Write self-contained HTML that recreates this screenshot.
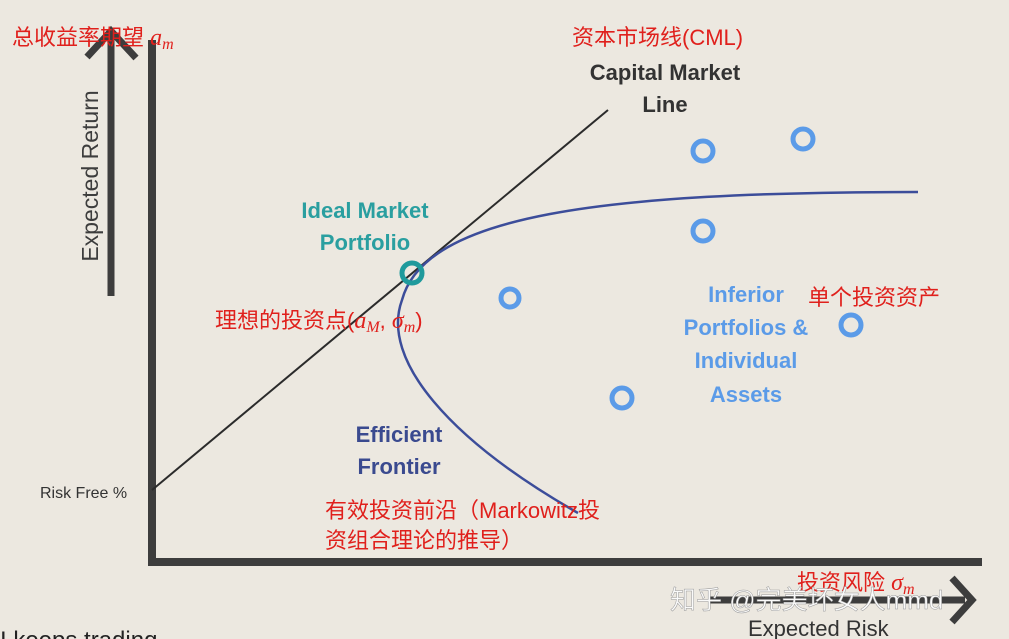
<!DOCTYPE html>
<html><head><meta charset="utf-8"><style>
html,body{margin:0;padding:0;background:#ece8e0;}
svg{display:block}
text{font-family:"Liberation Sans","Noto Sans CJK SC",sans-serif;}
.b{font-weight:bold;font-size:22px}
.r{fill:#e0201c;font-size:22px}
.m{font-family:"Liberation Serif",serif;font-style:italic;font-size:24px}
.s{font-family:"Liberation Serif",serif;font-style:italic;font-size:16px}
</style></head><body>
<svg width="1009" height="639" viewBox="0 0 1009 639" xmlns="http://www.w3.org/2000/svg">
<rect width="1009" height="639" fill="#ece8e0"/>
<line x1="152" y1="40" x2="152" y2="566" stroke="#3d3d3d" stroke-width="8"/>
<line x1="148" y1="562" x2="982" y2="562" stroke="#3d3d3d" stroke-width="8"/>
<line x1="111" y1="32" x2="111" y2="296" stroke="#3d3d3d" stroke-width="7"/>
<polyline points="87,57 111,31 136,58" fill="none" stroke="#3d3d3d" stroke-width="7"/>
<line x1="710" y1="600" x2="965" y2="600" stroke="#3d3d3d" stroke-width="7"/>
<polyline points="952,578 972,600 952,622" fill="none" stroke="#3d3d3d" stroke-width="7"/>
<line x1="152" y1="490" x2="608" y2="110" stroke="#2b2b2b" stroke-width="2"/>
<path d="M578,513 C450,440 380,360 402,300 C425,215 600,192 918,192" fill="none" stroke="#3c4d9a" stroke-width="2.5"/>
<g fill="none" stroke="#5b9be8" stroke-width="5">
<circle cx="703" cy="151" r="10"/><circle cx="803" cy="139" r="10"/>
<circle cx="703" cy="231" r="10"/><circle cx="510" cy="298" r="9"/>
<circle cx="851" cy="325" r="10"/><circle cx="622" cy="398" r="10"/>
</g>
<circle cx="412" cy="273" r="10" fill="none" stroke="#1f9a9c" stroke-width="5"/>
<text x="12" y="45" class="r">总收益率期望 <tspan class="m">a</tspan><tspan class="s" dy="4">m</tspan></text>
<text x="572" y="45" class="r">资本市场线(CML)</text>
<text x="665" y="80" text-anchor="middle" class="b" fill="#333">Capital Market</text>
<text x="665" y="112" text-anchor="middle" class="b" fill="#333">Line</text>
<text x="365" y="218" text-anchor="middle" class="b" fill="#2a9fa0">Ideal Market</text>
<text x="365" y="250" text-anchor="middle" class="b" fill="#2a9fa0">Portfolio</text>
<text x="215" y="328" class="r">理想的投资点(<tspan class="m">a</tspan><tspan class="s" dy="4">M</tspan><tspan dy="-4">, </tspan><tspan class="m">σ</tspan><tspan class="s" dy="4">m</tspan><tspan dy="-4">)</tspan></text>
<text x="746" y="302" text-anchor="middle" class="b" fill="#5b9be8">Inferior</text>
<text x="746" y="335" text-anchor="middle" class="b" fill="#5b9be8">Portfolios &amp;</text>
<text x="746" y="368" text-anchor="middle" class="b" fill="#5b9be8">Individual</text>
<text x="746" y="402" text-anchor="middle" class="b" fill="#5b9be8">Assets</text>
<text x="808" y="305" class="r">单个投资资产</text>
<text x="399" y="442" text-anchor="middle" class="b" fill="#3a4a8f">Efficient</text>
<text x="399" y="474" text-anchor="middle" class="b" fill="#3a4a8f">Frontier</text>
<text x="40" y="498" font-size="16" fill="#333">Risk Free %</text>
<text x="325" y="518" class="r">有效投资前沿（Markowitz投</text>
<text x="325" y="548" class="r">资组合理论的推导）</text>
<text x="797" y="590" class="r">投资风险 <tspan class="m">σ</tspan><tspan class="s" dy="4">m</tspan></text>
<text x="670" y="609" font-size="26" fill="#fafafa" stroke="#999" stroke-width="0.5">知乎 @完美坏女人mmd</text>
<text x="748" y="636" font-size="22" fill="#333">Expected Risk</text>
<text transform="translate(98,176) rotate(-90)" text-anchor="middle" font-size="23" fill="#3d3d3d">Expected Return</text>
<text x="0" y="648" font-size="24" fill="#222">I keeps trading</text>
</svg>
</body></html>
